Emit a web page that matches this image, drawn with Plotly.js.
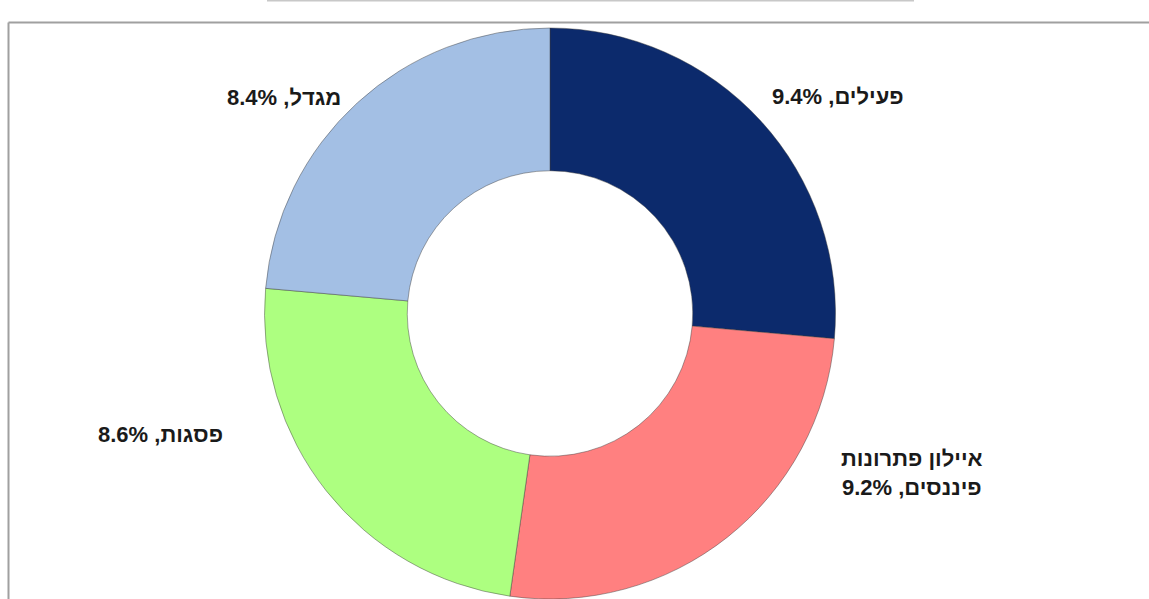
<!DOCTYPE html>
<html>
<head>
<meta charset="utf-8">
<script src="https://cdn.plot.ly/plotly-3.0.1.min.js"></script>
<style>html,body{margin:0;padding:0;background:#fff;}#chart{width:1149px;height:599px;}</style>
</head>
<body>
<div id="chart"></div>
<script>
const categories = ["פעילים", "איילון פתרונות פיננסים", "פסגות", "מגדל"];
const displayLabels = ["פעילים", "איילון פתרונות<br>פיננסים", "פסגות", "מגדל"];
const values = [9.4, 9.2, 8.6, 8.4];
const colors = ["#0c2a6c", "#ff8080", "#adff80", "#a3bfe4"];

const W = 1149, H = 599;
const px = x => x / W;
const py = y => 1 - y / H;

// label anchor positions (pixels), one per slice
const labelPos = [[838, 96], [912, 473], [160, 434], [284, 97]];

const annotations = categories.map((c, i) => ({
  xref: 'paper', yref: 'paper',
  x: px(labelPos[i][0]), y: py(labelPos[i][1]),
  xanchor: 'center', yanchor: 'middle',
  text: '<b>' + displayLabels[i] + ', ' + values[i].toFixed(1) + '%</b>',
  showarrow: false, align: 'center',
  font: {family: 'Liberation Sans, Arial, sans-serif', size: 22, color: '#1a1a1a'}
}));

const data = [{
  type: 'pie',
  labels: categories,
  values: values,
  hole: 0.5,
  sort: false,
  direction: 'clockwise',
  rotation: 0,
  textinfo: 'none',
  hoverinfo: 'label+value',
  marker: {colors: colors, line: {color: 'rgba(60,60,60,0.45)', width: 1}},
  domain: {x: [264 / W, 836 / W], y: [0, 1 - 28 / H]},
  showlegend: false
}];

const layout = {
  width: W, height: H,
  margin: {l: 0, r: 0, t: 0, b: 0},
  paper_bgcolor: '#ffffff',
  showlegend: false,
  annotations: annotations,
  shapes: [
    {type: 'line', xref: 'paper', yref: 'paper', x0: px(267), x1: px(914), y0: py(0.5), y1: py(0.5),
     line: {color: '#c8c8c8', width: 2}},
    {type: 'line', xref: 'paper', yref: 'paper', x0: px(8.5), x1: px(8.5), y0: py(22.5), y1: py(600),
     line: {color: '#a0a0a0', width: 2}},
    {type: 'line', xref: 'paper', yref: 'paper', x0: px(8.5), x1: px(1150), y0: py(22.5), y1: py(22.5),
     line: {color: '#a0a0a0', width: 2}}
  ]
};

Plotly.newPlot('chart', data, layout, {displayModeBar: false, staticPlot: true});
</script>
</body>
</html>
